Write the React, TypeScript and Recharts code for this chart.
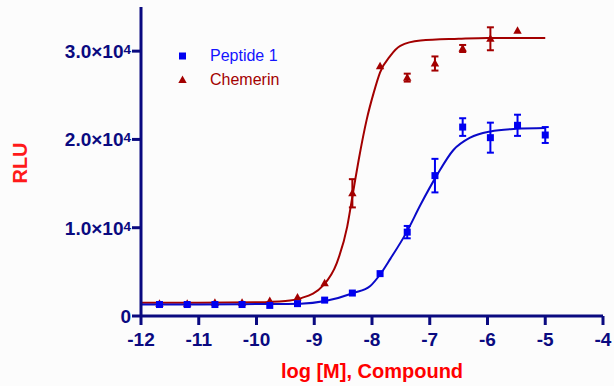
import { ComposedChart, Line, Scatter, ErrorBar, XAxis, YAxis, Legend } from 'recharts';

// log[M] of the 3-fold dilution series
const doseLog = [-11.68, -11.2, -10.72, -10.25, -9.77, -9.29, -8.82, -8.34, -7.86, -7.39, -6.91, -6.43, -5.95, -5.48, -5.0];

const peptideMean = [1300, 1300, 1300, 1300, 1200, 1400, 1800, 2600, 4800, 9500, 15900, 21400, 20200, 21600, 20500];
const peptideErr = [null, null, null, null, null, null, null, null, null, 700, 1900, 1000, 1700, 1200, 900];

const chemerinMean = [1400, 1400, 1500, 1500, 1700, 2100, 3700, 13900, 28300, 27000, 28600, 30300, 31400, 32300];
const chemerinErr = [null, null, null, null, null, null, null, 1600, null, 450, 800, 400, 1300, null];

// fitted curves
const peptideFitX = [-12, -11, -10, -9.24, -8.81, -8.32, -8.03, -7.86, -7.68, -7.4, -7.16, -6.88, -6.59, -6.3, -5.95, -5.5, -5];
const peptideFitY = [1300, 1300, 1350, 1400, 1700, 2600, 3400, 4700, 6500, 9500, 12600, 15900, 18800, 20200, 20900, 21200, 21300];

const chemerinFitX = [-12, -11, -10, -9.5, -9.24, -8.84, -8.61, -8.43, -8.32, -8.23, -8.09, -7.97, -7.86, -7.68, -7.51, -7.16, -6.5, -6, -5];
const chemerinFitY = [1500, 1500, 1550, 1700, 2000, 3500, 6000, 10100, 14300, 17700, 22300, 25300, 27600, 29500, 30600, 31200, 31400, 31500, 31500];

const xTicks = [-12, -11, -10, -9, -8, -7, -6, -5, -4];
const yTicks = [0, 10000, 20000, 30000];

const NAVY = '#0a0a80';
const BLUE = '#0000f0';
const BLUE_LINE = '#0a0ac8';
const DARKRED = '#a30000';

const peptidePoints = doseLog.map((x, i) => ({ x, y: peptideMean[i], err: peptideErr[i] }));
const chemerinPoints = chemerinMean.map((y, i) => ({ x: doseLog[i], y, err: chemerinErr[i] }));
const peptideFit = peptideFitX.map((x, i) => ({ x, y: peptideFitY[i] }));
const chemerinFit = chemerinFitX.map((x, i) => ({ x, y: chemerinFitY[i] }));

const font = '"Liberation Sans", Arial, sans-serif';

function YTick({ x, y, payload }: any) {
  const v = payload.value;
  return (
    <text x={x} y={y} dy={6.8} textAnchor="end" fill={NAVY} fontFamily={font} fontWeight="bold" fontSize={19}>
      {v === 0 ? '0' : (
        <>
          <tspan>{(v / 10000).toFixed(1)}×10</tspan>
          <tspan fontSize={13.5} dy={-4}>4</tspan>
        </>
      )}
    </text>
  );
}

function XTick({ x, y, payload }: any) {
  return (
    <text x={x} y={y} dy={13.5} textAnchor="middle" fill={NAVY} fontFamily={font} fontWeight="bold" fontSize={19}>
      {payload.value}
    </text>
  );
}

const Square = (p: any) => <rect x={p.cx - 3.5} y={p.cy - 3.5} width={7} height={7} fill={BLUE} />;
const Triangle = (p: any) => (
  <path d={`M${p.cx},${p.cy - 4.5} L${p.cx + 4.2},${p.cy + 3} L${p.cx - 4.2},${p.cy + 3} Z`} fill={DARKRED} />
);

function LegendBox() {
  const row = { display: 'flex', alignItems: 'center', height: 24, fontFamily: font, fontSize: 16 };
  return (
    <div>
      <div style={{ ...row, color: '#1414ff' }}>
        <svg width={40} height={12}><rect x={9} y={2.5} width={7} height={7} fill={BLUE} /></svg>
        Peptide 1
      </div>
      <div style={{ ...row, color: DARKRED }}>
        <svg width={40} height={12}><path d="M12.5,1.5 L16.7,9 L8.3,9 Z" fill={DARKRED} /></svg>
        Chemerin
      </div>
    </div>
  );
}

export default function App() {
  return (
    <div style={{ position: 'absolute', left: 0, top: 0, width: 614, height: 386, background: '#fcfcfc' }}>
      <ComposedChart width={614} height={386} margin={{ top: 7, right: 11, bottom: 0, left: 0 }}>
        <XAxis
          type="number"
          dataKey="x"
          domain={[-12, -4]}
          ticks={xTicks}
          height={70}
          tickSize={9}
          tickMargin={7}
          axisLine={{ stroke: NAVY, strokeWidth: 3 }}
          tickLine={{ stroke: NAVY, strokeWidth: 3 }}
          tick={<XTick />}
          label={() => (
            <text x={372} y={378} textAnchor="middle" fill="#ff0000" fontFamily={font} fontWeight="bold" fontSize={20}>
              log [M], Compound
            </text>
          )}
        />
        <YAxis
          type="number"
          domain={[0, 35000]}
          ticks={yTicks}
          width={141}
          tickSize={9}
          tickMargin={1}
          axisLine={{ stroke: NAVY, strokeWidth: 3 }}
          tickLine={{ stroke: NAVY, strokeWidth: 3 }}
          tick={<YTick />}
          label={() => (
            <text x={27} y={163} transform="rotate(-90, 27, 163)" textAnchor="middle" fill="#ff1a1a" fontFamily={font} fontWeight="bold" fontSize={20}>
              RLU
            </text>
          )}
        />
        <Legend
          verticalAlign="middle"
          align="center"
          layout="vertical"
          wrapperStyle={{ left: 170, top: 44, width: 160 }}
          content={() => <LegendBox />}
        />
        <Line data={chemerinFit} dataKey="y" type="monotone" stroke={DARKRED} strokeWidth={2} dot={false} isAnimationActive={false} legendType="none" />
        <Line data={peptideFit} dataKey="y" type="monotone" stroke={BLUE_LINE} strokeWidth={2} dot={false} isAnimationActive={false} legendType="none" />
        <Scatter data={chemerinPoints} dataKey="y" shape={<Triangle />} isAnimationActive={false}>
          <ErrorBar dataKey="err" direction="y" width={3.5} stroke={DARKRED} strokeWidth={2} />
        </Scatter>
        <Scatter data={peptidePoints} dataKey="y" shape={<Square />} isAnimationActive={false}>
          <ErrorBar dataKey="err" direction="y" width={3.5} stroke={BLUE} strokeWidth={2} />
        </Scatter>
      </ComposedChart>
    </div>
  );
}
